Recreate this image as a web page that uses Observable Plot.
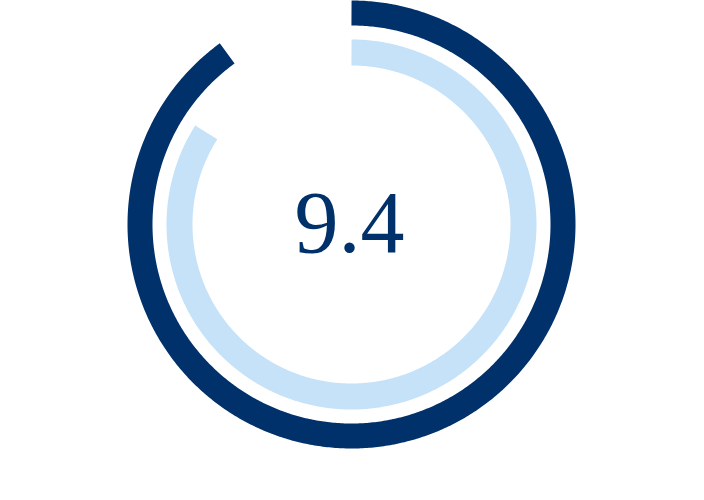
<!DOCTYPE html>
<html>
<head>
<meta charset="utf-8">
<script src="https://cdn.jsdelivr.net/npm/d3@7"></script>
<script src="https://cdn.jsdelivr.net/npm/@observablehq/plot@0.6"></script>
<style>
  html, body { margin: 0; padding: 0; background: #ffffff; }
  #chart svg { display: block; }
</style>
</head>
<body>
<div id="chart"></div>
<script>
// Data
const rings = ["Outer", "Inner"];
const ringShares = [90, 84];          // percent of full circle covered
const scaleMax = 100;
const centerLabel = "9.4";

// Style constants
const ringColors = ["#00316b", "#c6e2f8"];
const ringRadius = [211.5, 172];
const ringWidth = [25, 26];
const R = 224;

// Build arc paths from the values
const arcPoints = [];
rings.forEach((name, i) => {
  const frac = ringShares[i] / scaleMax;
  const steps = 600;
  for (let k = 0; k <= steps; k++) {
    const a = (k / steps) * frac * 2 * Math.PI;
    arcPoints.push({ring: name, x: ringRadius[i] * Math.sin(a), y: ringRadius[i] * Math.cos(a)});
  }
});

const marks = rings.map((name, i) =>
  Plot.line(arcPoints.filter(d => d.ring === name), {
    x: "x", y: "y",
    stroke: ringColors[i],
    strokeWidth: ringWidth[i],
    strokeLinecap: "butt",
    strokeLinejoin: "round"
  })
);
marks.push(Plot.text([centerLabel], {
  x: () => 0, y: () => 0, text: d => d,
  fontSize: 88, fontFamily: "Liberation Serif", fill: ringColors[0],
  dx: -2, dy: -1
}));

const chart = Plot.plot({
  width: 704, height: 500,
  marginLeft: 127, marginRight: 129, marginTop: 0, marginBottom: 52,
  x: {domain: [-R, R], axis: null},
  y: {domain: [-R, R], axis: null},
  marks
});
document.getElementById("chart").append(chart);
</script>
</body>
</html>
